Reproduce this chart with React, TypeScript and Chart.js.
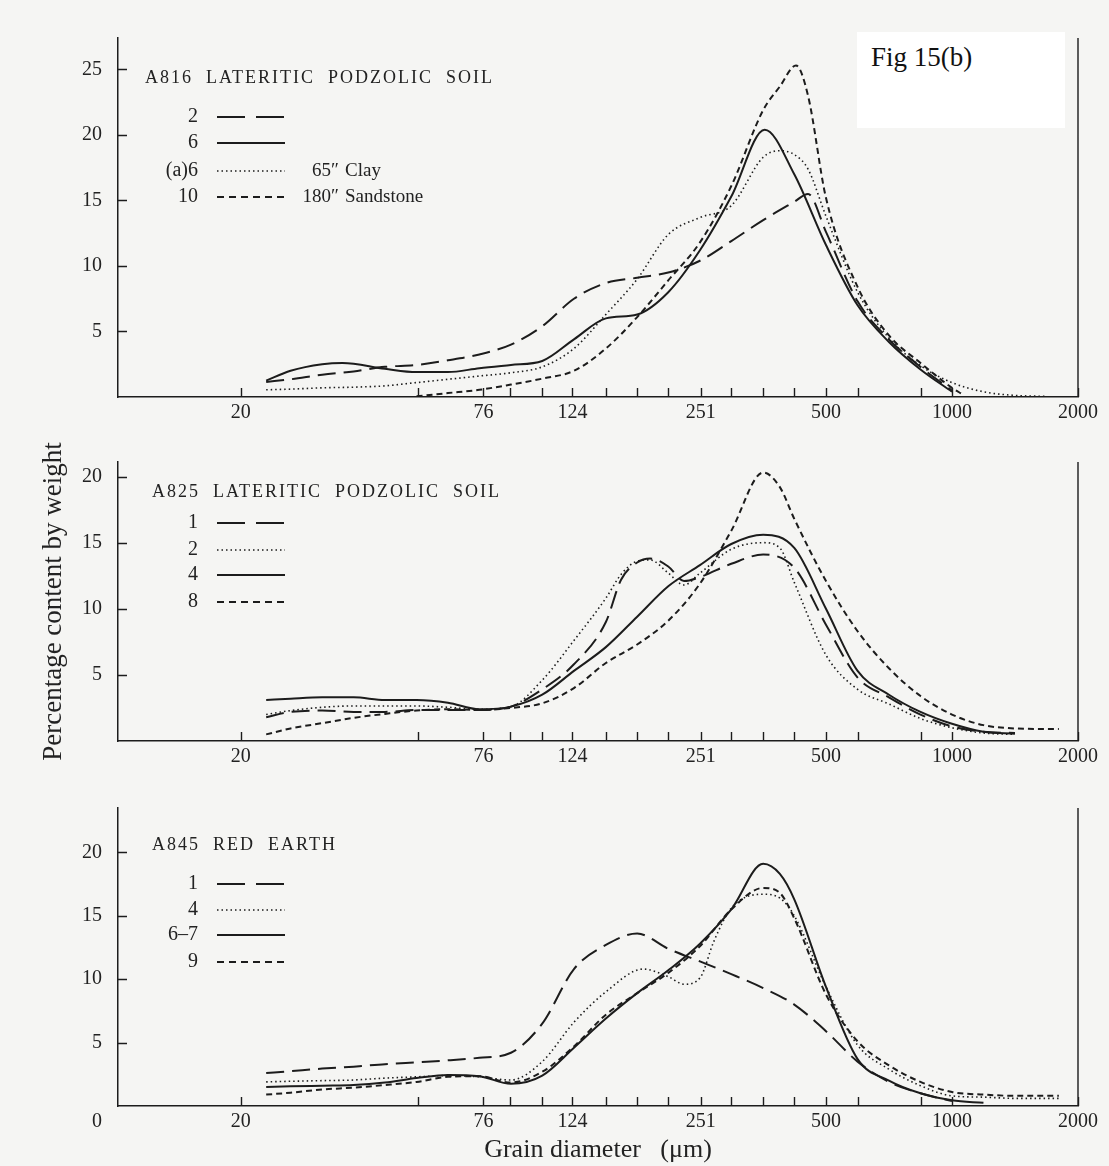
import React, { useEffect, useRef } from 'react';
import { Chart, registerables } from 'chart.js';

Chart.register(...registerables);

// ---------- shared axis values ----------
const X_MAJOR = [20, 76, 124, 251, 500, 1000, 2000];
const X_MINOR = [53, 88, 105, 149, 177, 210, 297, 354, 420, 595, 841];
const X_MIN = 10.18;
const X_MAX = 2000;
const Y_TICKS_P1 = [5, 10, 15, 20, 25];
const Y_TICKS_P23 = [5, 10, 15, 20];

// ---------- Panel 1: A816 ----------
const P1_TITLE = 'A816  LATERITIC  PODZOLIC  SOIL';
const P1_LABELS = ['2', '6', '(a)6', '10'];
const P1_X_2 = [23, 26.3, 31.3, 37.2, 44.2, 52.6, 62.5, 74.3, 88.4, 105, 125, 149, 177, 210, 250, 297, 354, 420, 453, 500, 595, 707, 841, 1000];
const P1_Y_2 = [1.15, 1.35, 1.7, 1.95, 2.3, 2.45, 2.8, 3.25, 4.0, 5.4, 7.5, 8.7, 9.1, 9.5, 10.4, 11.9, 13.5, 14.9, 15.5, 12.6, 7.3, 4.4, 2.3, 0.5];
const P1_X_6 = [23, 26.3, 31.3, 35, 44.2, 52.6, 62.5, 74.3, 88.4, 105, 125, 149, 177, 210, 250, 297, 357, 420, 500, 595, 707, 841, 1000];
const P1_Y_6 = [1.25, 2.0, 2.5, 2.6, 2.15, 1.9, 1.9, 2.2, 2.45, 2.75, 4.4, 6.0, 6.3, 8.0, 11.2, 15.3, 20.4, 17.0, 11.6, 7.0, 4.2, 2.1, 0.4];
const P1_X_A6 = [23, 26.3, 31.3, 37.2, 44.2, 52.6, 62.5, 74.3, 88.4, 105, 125, 149, 177, 210, 250, 297, 354, 388, 420, 453, 500, 595, 707, 841, 1000, 1189, 1414, 1682];
const P1_Y_A6 = [0.55, 0.6, 0.7, 0.75, 0.85, 1.1, 1.35, 1.6, 1.85, 2.3, 3.7, 6.3, 9.0, 12.4, 13.7, 14.6, 18.3, 18.8, 18.5, 17.4, 13.8, 8.0, 4.5, 2.4, 1.1, 0.4, 0.12, 0.05];
const P1_X_10 = [52.6, 62.5, 74.3, 88.4, 105, 125, 149, 177, 210, 250, 297, 354, 388, 424, 453, 500, 595, 707, 841, 1000, 1060];
const P1_Y_10 = [0.05, 0.3, 0.55, 0.95, 1.4, 2.0, 3.7, 6.1, 8.9, 11.8, 16.1, 21.9, 23.7, 25.3, 23.0, 15.2, 8.4, 4.7, 2.6, 0.7, 0.2];
const P1_EXTRA_NUM = ['', '', '65″', '180″'];
const P1_EXTRA_WORD = ['', '', 'Clay', 'Sandstone'];

// ---------- Panel 2: A825 ----------
const P2_TITLE = 'A825  LATERITIC  PODZOLIC  SOIL';
const P2_LABELS = ['1', '2', '4', '8'];
const P2_X_1 = [23, 26.3, 31.3, 37.2, 44.2, 52.6, 62.5, 74.3, 88.4, 105, 125, 149, 162, 177, 190, 210, 229, 250, 297, 354, 420, 500, 595, 707, 841, 1000, 1189, 1414];
const P2_Y_1 = [1.8, 2.2, 2.3, 2.2, 2.2, 2.35, 2.35, 2.35, 2.6, 3.9, 5.8, 9.0, 12.2, 13.5, 13.8, 13.2, 12.1, 12.4, 13.4, 14.1, 13.1, 8.8, 4.8, 3.3, 2.0, 1.1, 0.7, 0.6];
const P2_X_2 = [23, 26.3, 31.3, 37.2, 44.2, 52.6, 62.5, 74.3, 88.4, 105, 125, 149, 162, 177, 190, 210, 229, 250, 297, 354, 388, 420, 500, 595, 707, 841, 1000, 1189, 1414];
const P2_Y_2 = [2.0, 2.3, 2.55, 2.65, 2.65, 2.65, 2.55, 2.4, 2.6, 4.6, 7.6, 10.8, 12.6, 13.6, 13.7, 12.7, 11.8, 12.7, 14.5, 15.0, 14.6, 12.0, 6.5, 3.9, 2.8, 1.7, 1.0, 0.6, 0.5];
const P2_X_4 = [23, 26.3, 31.3, 37.2, 44.2, 52.6, 62.5, 74.3, 88.4, 105, 125, 149, 177, 210, 250, 297, 354, 420, 500, 595, 707, 841, 1000, 1189, 1414];
const P2_Y_4 = [3.1, 3.2, 3.3, 3.3, 3.1, 3.1, 2.9, 2.4, 2.6, 3.5, 5.3, 7.1, 9.4, 11.7, 13.3, 14.9, 15.6, 14.6, 10.0, 5.3, 3.5, 2.2, 1.3, 0.7, 0.55];
const P2_X_8 = [23, 26.3, 31.3, 37.2, 44.2, 52.6, 62.5, 74.3, 88.4, 105, 125, 149, 177, 210, 250, 297, 354, 388, 420, 500, 595, 707, 841, 1000, 1189, 1414, 1800];
const P2_Y_8 = [0.5, 0.95, 1.35, 1.75, 2.05, 2.3, 2.4, 2.35, 2.5, 2.85, 4.0, 5.9, 7.3, 9.1, 11.9, 15.9, 20.3, 19.2, 16.8, 12.1, 8.3, 5.5, 3.4, 2.0, 1.2, 0.95, 0.9];

// ---------- Panel 3: A845 ----------
const P3_TITLE = 'A845  RED  EARTH';
const P3_LABELS = ['1', '4', '6–7', '9'];
const P3_X_1 = [23, 26.3, 31.3, 37.2, 44.2, 52.6, 62.5, 74.3, 88.4, 105, 125, 149, 177, 210, 250, 297, 354, 420, 500, 595, 707, 841, 1000];
const P3_Y_1 = [2.6, 2.75, 2.95, 3.1, 3.3, 3.45, 3.6, 3.8, 4.2, 6.5, 10.8, 12.7, 13.6, 12.4, 11.4, 10.4, 9.3, 8.0, 5.9, 3.5, 1.9, 1.0, 0.4];
const P3_X_4 = [23, 26.3, 31.3, 37.2, 44.2, 52.6, 62.5, 74.3, 88.4, 105, 125, 149, 183, 210, 229, 250, 270, 297, 354, 388, 420, 500, 595, 707, 841, 1000, 1189, 1414, 1800];
const P3_Y_4 = [1.9, 1.95, 2.0, 2.05, 2.2, 2.3, 2.4, 2.3, 2.05, 3.5, 6.6, 9.0, 10.8, 10.2, 9.6, 10.1, 13.0, 15.6, 16.7, 16.4, 15.0, 9.4, 4.8, 2.9, 1.6, 0.8, 0.7, 0.6, 0.6];
const P3_X_67 = [23, 26.3, 31.3, 37.2, 44.2, 52.6, 62.5, 74.3, 88.4, 105, 125, 149, 177, 210, 250, 297, 354, 388, 420, 500, 595, 707, 841, 1000, 1189];
const P3_Y_67 = [1.5, 1.55, 1.6, 1.65, 1.85, 2.2, 2.45, 2.35, 1.75, 2.4, 4.6, 6.9, 8.9, 10.7, 12.8, 15.5, 19.1, 18.3, 16.3, 9.4, 3.7, 2.0, 1.0, 0.45, 0.25];
const P3_X_9 = [23, 26.3, 31.3, 37.2, 44.2, 52.6, 62.5, 74.3, 88.4, 105, 125, 149, 177, 210, 250, 297, 354, 388, 420, 500, 595, 707, 841, 1000, 1189, 1414, 1800];
const P3_Y_9 = [0.9, 1.05, 1.3, 1.45, 1.65, 1.9, 2.3, 2.35, 1.85, 2.7, 4.7, 7.2, 8.9, 10.5, 12.6, 15.5, 17.2, 16.8, 14.8, 8.8, 5.1, 3.2, 1.9, 1.1, 0.9, 0.8, 0.8];

const Y_TITLE = 'Percentage content by weight';
const X_TITLE = 'Grain diameter   (μm)';
const FIG_LABEL = 'Fig 15(b)';

// ---------- styles ----------
const FONT = '"Liberation Serif", "DejaVu Serif", serif';
const INK = '#222222';
const LINE = '#1c1c1c';
const BG = '#f5f5f3';
const DASH_LONG = [18, 8];
const DASH_SHORT = [6, 4];
const DASH_DOT = [1.5, 3];
const SOLID: number[] = [];

type Style = { dash: number[]; width: number; legendDash: number[] };
const S_LONG: Style = { dash: DASH_LONG, width: 2.0, legendDash: [28, 11] };
const S_SOLID: Style = { dash: SOLID, width: 2.0, legendDash: [] };
const S_DOT: Style = { dash: DASH_DOT, width: 1.6, legendDash: DASH_DOT };
const S_SHORT: Style = { dash: DASH_SHORT, width: 2.0, legendDash: [7, 5] };

type PanelCfg = {
  top: number; height: number; padTop: number; xAxisH: number; yMax: number; yTicks: number[];
  title: string; titleDX: number; titleDY: number; rows: number[];
  labels: string[]; xs: number[][]; ys: number[][]; styles: Style[];
  extraNum?: string[]; extraWord?: string[];
  yTitle?: boolean; xTitle?: boolean; zeroLabel?: boolean;
};

const PANELS: PanelCfg[] = [
  {
    top: 0, height: 432, padTop: 38, xAxisH: 35, yMax: 27.4, yTicks: Y_TICKS_P1,
    title: P1_TITLE, titleDX: 27, titleDY: 40, rows: [79, 105, 133, 159],
    labels: P1_LABELS, xs: [P1_X_2, P1_X_6, P1_X_A6, P1_X_10], ys: [P1_Y_2, P1_Y_6, P1_Y_A6, P1_Y_10],
    styles: [S_LONG, S_SOLID, S_DOT, S_SHORT], extraNum: P1_EXTRA_NUM, extraWord: P1_EXTRA_WORD,
  },
  {
    top: 432, height: 348, padTop: 30, xAxisH: 39, yMax: 21.1, yTicks: Y_TICKS_P23,
    title: P2_TITLE, titleDX: 34, titleDY: 30, rows: [61, 88, 113, 140],
    labels: P2_LABELS, xs: [P2_X_1, P2_X_2, P2_X_4, P2_X_8], ys: [P2_Y_1, P2_Y_2, P2_Y_4, P2_Y_8],
    styles: [S_LONG, S_DOT, S_SOLID, S_SHORT], yTitle: true,
  },
  {
    top: 780, height: 386, padTop: 21, xAxisH: 60, yMax: 23.5, yTicks: Y_TICKS_P23,
    title: P3_TITLE, titleDX: 34, titleDY: 37, rows: [76, 102, 127, 154],
    labels: P3_LABELS, xs: [P3_X_1, P3_X_4, P3_X_67, P3_X_9], ys: [P3_Y_1, P3_Y_4, P3_Y_67, P3_Y_9],
    styles: [S_LONG, S_DOT, S_SOLID, S_SHORT], xTitle: true, zeroLabel: true,
  },
];

function makeDecor(cfg: PanelCfg) {
  return {
    id: 'decor',
    afterDraw(chart: any) {
      const { ctx, chartArea: a, scales } = chart;
      const xs = scales.x;
      const ys = scales.y;
      ctx.save();
      ctx.strokeStyle = LINE;
      ctx.lineWidth = 1.4;
      ctx.setLineDash([]);
      ctx.beginPath();
      ctx.moveTo(a.right, a.top);
      ctx.lineTo(a.right, a.bottom);
      for (const t of xs.ticks) {
        const px = Math.round(xs.getPixelForValue(t.value)) + 0.5;
        ctx.moveTo(px, a.bottom);
        ctx.lineTo(px, a.bottom - 9);
      }
      for (const t of ys.ticks) {
        const py = Math.round(ys.getPixelForValue(t.value)) + 0.5;
        ctx.moveTo(a.left, py);
        ctx.lineTo(a.left + 9, py);
      }
      ctx.stroke();

      ctx.fillStyle = INK;
      ctx.textBaseline = 'middle';
      ctx.textAlign = 'left';
      ctx.font = `18px ${FONT}`;
      (ctx as any).letterSpacing = '2px';
      ctx.fillText(cfg.title, a.left + cfg.titleDX, a.top + cfg.titleDY);
      (ctx as any).letterSpacing = '0px';

      cfg.labels.forEach((lab, i) => {
        const ry = a.top + cfg.rows[i];
        ctx.font = `20px ${FONT}`;
        ctx.textAlign = 'right';
        ctx.fillText(lab, a.left + 80, ry);
        const st = cfg.styles[i];
        ctx.setLineDash(st.legendDash);
        ctx.lineWidth = st.width;
        ctx.beginPath();
        ctx.moveTo(a.left + 99, ry);
        ctx.lineTo(a.left + 167, ry);
        ctx.stroke();
        ctx.setLineDash([]);
        if (cfg.extraNum && cfg.extraNum[i]) {
          ctx.font = `19px ${FONT}`;
          ctx.textAlign = 'right';
          ctx.fillText(cfg.extraNum[i], a.left + 221, ry);
          ctx.textAlign = 'left';
          ctx.fillText(cfg.extraWord ? cfg.extraWord[i] : '', a.left + 227, ry);
        }
      });

      if (cfg.zeroLabel) {
        ctx.font = `20px ${FONT}`;
        ctx.textAlign = 'right';
        ctx.fillText('0', a.left - 16, ys.getPixelForValue(0) + 16);
      }
      ctx.restore();
    },
  };
}

function Panel({ cfg }: { cfg: PanelCfg }) {
  const ref = useRef<HTMLCanvasElement>(null);
  useEffect(() => {
    if (!ref.current) return;
    const datasets = cfg.labels.map((lab, i) => ({
      label: lab,
      data: cfg.xs[i].map((x, j) => ({ x, y: cfg.ys[i][j] })),
      borderColor: LINE,
      borderWidth: cfg.styles[i].width,
      borderDash: cfg.styles[i].dash,
      pointRadius: 0,
      fill: false,
      tension: 0.4,
      cubicInterpolationMode: 'monotone' as const,
    }));
    const chart = new Chart(ref.current, {
      type: 'line',
      data: { datasets },
      options: {
        animation: false,
        responsive: false,
        events: [],
        layout: { padding: { left: 0, right: 31, top: cfg.padTop, bottom: 0 } },
        plugins: { legend: { display: false }, tooltip: { enabled: false }, title: { display: false } },
        scales: {
          x: {
            type: 'logarithmic',
            min: X_MIN,
            max: X_MAX,
            afterBuildTicks: (s: any) => {
              s.ticks = [...X_MAJOR, ...X_MINOR].sort((p, q) => p - q).map((v) => ({ value: v }));
            },
            afterFit: (s: any) => { s.height = cfg.xAxisH; },
            grid: { display: false, drawTicks: false },
            border: { display: true, color: LINE, width: 1.5 },
            ticks: {
              autoSkip: false, maxRotation: 0, minRotation: 0, padding: 4,
              color: INK, font: { family: FONT, size: 20 },
              callback: (v: any) => (X_MAJOR.includes(Number(v)) ? String(v) : ''),
            },
            title: {
              display: !!cfg.xTitle, text: X_TITLE, color: INK,
              font: { family: FONT, size: 26 }, padding: { top: 0, bottom: 0 },
            },
          },
          y: {
            type: 'linear',
            min: 0,
            max: cfg.yMax,
            afterBuildTicks: (s: any) => { s.ticks = cfg.yTicks.map((v) => ({ value: v })); },
            afterFit: (s: any) => { s.width = 118; },
            grid: { display: false, drawTicks: false },
            border: { display: true, color: LINE, width: 1.5 },
            ticks: { padding: 16, color: INK, font: { family: FONT, size: 20 }, callback: (v: any) => String(v) },
            title: {
              display: !!cfg.yTitle, text: Y_TITLE, color: INK,
              font: { family: FONT, size: 27 }, padding: { top: 38, bottom: 0 },
            },
          },
        },
      },
      plugins: [makeDecor(cfg)],
    } as any);
    return () => chart.destroy();
  }, [cfg]);
  return (
    <canvas
      ref={ref}
      width={1109}
      height={cfg.height}
      style={{ position: 'absolute', left: 0, top: cfg.top, width: 1109, height: cfg.height }}
    />
  );
}

export default function App() {
  return (
    <div style={{ position: 'absolute', left: 0, top: 0, width: 1109, height: 1166, background: BG, overflow: 'hidden' }}>
      {PANELS.map((p, i) => (
        <Panel key={i} cfg={p} />
      ))}
      <div style={{ position: 'absolute', left: 857, top: 32, width: 208, height: 96, background: '#ffffff' }}>
        <div style={{ position: 'absolute', left: 14, top: 10, fontFamily: FONT, fontSize: 27, color: '#111', whiteSpace: 'nowrap' }}>
          {FIG_LABEL}
        </div>
      </div>
    </div>
  );
}
